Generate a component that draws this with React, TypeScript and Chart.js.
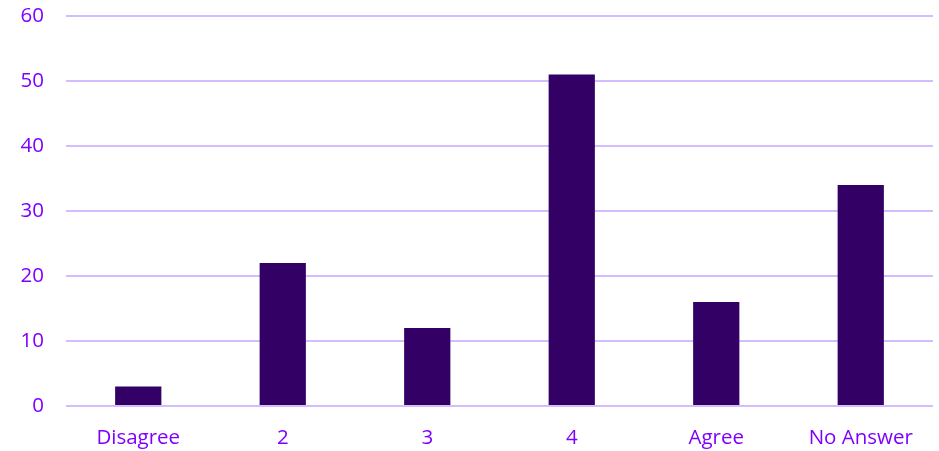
import React, { useEffect, useRef } from "react";
import { Chart, registerables } from "chart.js";

Chart.register(...registerables);

const categories = ["Disagree", "2", "3", "4", "Agree", "No Answer"];
const counts = [3, 22, 12, 51, 16, 34];
const yMin = 0;
const yMax = 60;
const yStep = 10;

const TEXT = "#7F00FF";
const GRID = "#D4BDFF";
const BAR = "#330066";
const FONT = "'Open Sans', 'Liberation Sans', sans-serif";

export default function App() {
  const ref = useRef<HTMLCanvasElement | null>(null);
  useEffect(() => {
    document.body.style.margin = "0";
    const ctx = ref.current!.getContext("2d")!;
    const chart = new Chart(ctx, {
      type: "bar",
      data: {
        labels: categories,
        datasets: [
          {
            data: counts,
            backgroundColor: BAR,
            borderWidth: 0,
            barPercentage: 0.32,
            categoryPercentage: 1,
          },
        ],
      },
      options: {
        animation: false,
        responsive: false,
        maintainAspectRatio: false,
        layout: { padding: { top: 16, right: 6, left: 0, bottom: 0 } },
        plugins: { legend: { display: false }, tooltip: { enabled: false } },
        scales: {
          x: {
            grid: { display: false, drawTicks: false },
            border: { display: false },
            ticks: { color: TEXT, font: { family: FONT, size: 20.5 }, padding: 20 },
            afterFit: (s: any) => {
              s.height = 45;
              s.paddingLeft = 0;
              s.paddingRight = 0;
            },
          },
          y: {
            min: yMin,
            max: yMax,
            ticks: { stepSize: yStep, color: TEXT, font: { family: FONT, size: 20.5 }, padding: 22 },
            grid: { color: GRID, lineWidth: 2, drawTicks: false },
            border: { display: false },
            afterFit: (s: any) => {
              s.width = 66;
              s.paddingTop = 0;
              s.paddingBottom = 0;
            },
          },
        },
      },
    });
    return () => chart.destroy();
  }, []);
  return (
    <div style={{ width: 939, height: 451 }}>
      <canvas ref={ref} width={939} height={451} style={{ display: "block" }} />
    </div>
  );
}
